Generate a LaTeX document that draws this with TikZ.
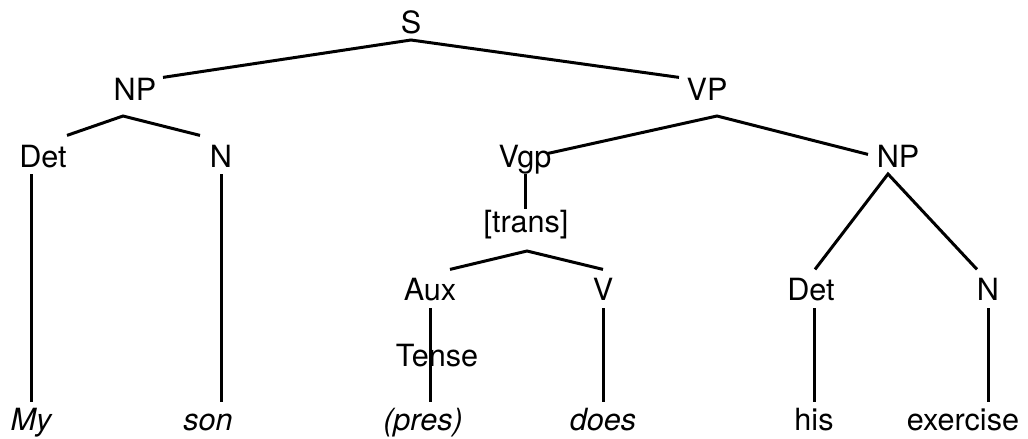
\documentclass[tikz,border=0pt]{standalone}
\usepackage{fontspec}
\setmainfont{TeX Gyre Heros}

\begin{document}
\begin{tikzpicture}[x=0.5pt,y=-0.5pt,line width=1.5pt,
		cat/.style={inner sep=0pt,outer sep=0pt,anchor=base,text height=10.8pt,text depth=0pt,font=\fontsize{15.3pt}{18pt}\selectfont},
		word/.style={cat,font=\fontsize{15.3pt}{18pt}\selectfont\itshape}]
					\useasboundingbox (0,0) rectangle (1028,439);
					\node[cat] (S) at (411,33) {S};
					\node[cat] (NPa) at (135,100) {NP};
					\node[cat] (VP) at (707,100) {VP};
					\node[cat] (Deta) at (43,167) {Det};
					\node[cat] (Na) at (221,167) {N};
					\node[cat] (Vgp) at (525,167) {Vgp};
					\node[cat] (NPb) at (898,167) {NP};
					\node[cat] (trans) at (526,232) {[trans]};
					\node[cat] (Aux) at (430,300) {Aux};
					\node[cat] (V) at (603,300) {V};
					\node[cat] (Detb) at (811,300) {Det};
					\node[cat] (Nb) at (988,300) {N};
					\node[cat] (Tense) at (437,366) {Tense};
					\node[word] (my) at (31,430) {My};
					\node[word] (son) at (208,430) {son};
					\node[word] (pres) at (423,430) {(pres)};
					\node[word] (does) at (603,430) {does};
					\node[cat] (his) at (814,430) {his};
					\node[cat] (exercise) at (963,430) {exercise};
					\draw ([shift={(28,-1)}]NPa.north) -- ([shift={(0,7)}]S.south) -- ([shift={(-28,-1)}]VP.north);
					\draw ([shift={(24,-10)}]Deta.north) -- ([shift={(-12,16)}]NPa.south) -- ([shift={(-21,-10)}]Na.north);
					\draw ([shift={(23,8)}]Vgp.north) -- ([shift={(10,16)}]VP.south) -- ([shift={(-30,9)}]NPb.north);
					\draw ([shift={(20,-9)}]Aux.north) -- ([shift={(1,19)}]trans.south) -- ([shift={(0,-9)}]V.north);
					\draw ([shift={(4,-9)}]Detb.north) -- ([shift={(-10,7)}]NPb.south) -- ([shift={(-11,-9)}]Nb.north);
					\draw ([shift={(0,7)}]Deta.south -| my.north) -- ([shift={(0,-6)}]my.north);
					\draw ([shift={(0,7)}]Na.south) -- ([shift={(0,-6)}]Na.south |- son.north);
					\draw ([shift={(0,7)}]Vgp.south) -- ([shift={(0,-1)}]Vgp.south |- trans.north);
					\draw ([shift={(0,8)}]Aux.south) -- ([shift={(0,-6)}]Aux.south |- pres.north);
					\draw ([shift={(0,8)}]V.south) -- ([shift={(0,-6)}]does.north);
					\draw ([shift={(0,8)}]Detb.south -| his.north) -- ([shift={(0,-6)}]his.north);
					\draw ([shift={(0,8)}]Nb.south) -- ([shift={(0,-6)}]Nb.south |- exercise.north);
				\end{tikzpicture}
\end{document}
